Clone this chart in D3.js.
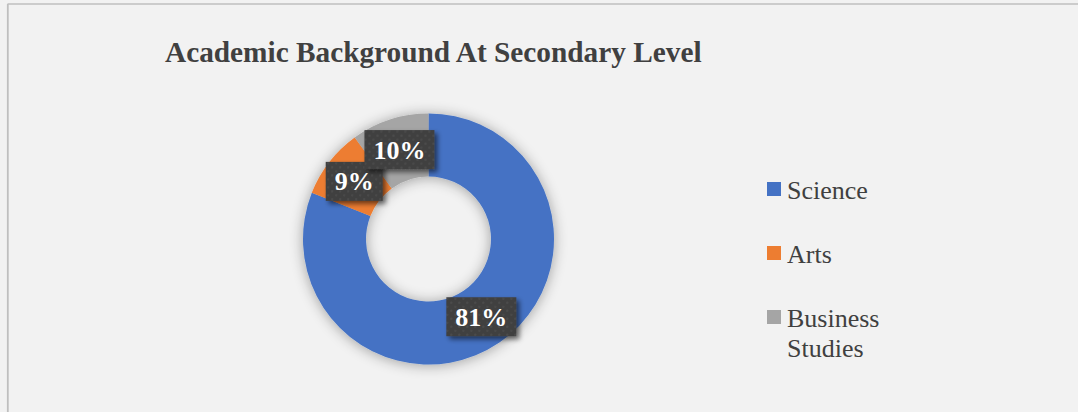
<!DOCTYPE html>
<html>
<head>
<meta charset="utf-8">
<script src="https://cdn.jsdelivr.net/npm/d3@7/dist/d3.min.js"></script>
<style>
  html, body { margin: 0; padding: 0; background: #f2f2f2; }
  svg { display: block; }
</style>
</head>
<body>
<svg id="chart" width="1078" height="412"></svg>
<script>
// Chart data
const chartTitle = "Academic Background At Secondary Level";
const categories = ["Science", "Arts", "Business Studies"];
const percentValues = [81, 9, 10];
const legendLines = [["Science"], ["Arts"], ["Business", "Studies"]];
const sliceColors = ["#4472c4", "#ed7d31", "#a5a5a5"];

const W = 1078, H = 412;
const svg = d3.select("#chart");
const defs = svg.append("defs");

// Soft halo around the ring
const halo = defs.append("filter").attr("id", "ringShadow")
  .attr("x", "-20%").attr("y", "-20%").attr("width", "140%").attr("height", "140%");
halo.append("feGaussianBlur").attr("in", "SourceAlpha").attr("stdDeviation", 7).attr("result", "b");
halo.append("feOffset").attr("in", "b").attr("dx", 0).attr("dy", 1).attr("result", "o");
halo.append("feComponentTransfer").attr("in", "o").attr("result", "s")
  .append("feFuncA").attr("type", "linear").attr("slope", 0.35);
const hm = halo.append("feMerge");
hm.append("feMergeNode").attr("in", "s");
hm.append("feMergeNode").attr("in", "SourceGraphic");

// Drop shadow behind the value boxes
const boxShadow = defs.append("filter").attr("id", "boxShadow")
  .attr("x", "-30%").attr("y", "-30%").attr("width", "170%").attr("height", "170%");
boxShadow.append("feGaussianBlur").attr("in", "SourceAlpha").attr("stdDeviation", 2.5).attr("result", "b");
boxShadow.append("feOffset").attr("in", "b").attr("dx", 3).attr("dy", 3).attr("result", "o");
boxShadow.append("feComponentTransfer").attr("in", "o").attr("result", "s")
  .append("feFuncA").attr("type", "linear").attr("slope", 0.55);
const bm = boxShadow.append("feMerge");
bm.append("feMergeNode").attr("in", "s");
bm.append("feMergeNode").attr("in", "SourceGraphic");

// Dotted texture for the label boxes
const pat = defs.append("pattern").attr("id", "dots")
  .attr("patternUnits", "userSpaceOnUse").attr("width", 8).attr("height", 8);
pat.append("rect").attr("width", 8).attr("height", 8).attr("fill", "#3f3f3f");
pat.append("circle").attr("cx", 2).attr("cy", 2).attr("r", 1.3).attr("fill", "#4c4c4c");
pat.append("circle").attr("cx", 6).attr("cy", 6).attr("r", 1.3).attr("fill", "#4a4a4a");

// Background and frame
svg.append("rect").attr("width", W).attr("height", H).attr("fill", "#f2f2f2");
svg.append("line").attr("x1", 7.5).attr("x2", W).attr("y1", 4).attr("y2", 4)
  .attr("stroke", "#bfbfbf").attr("stroke-width", 1.5);
svg.append("line").attr("x1", 7.8).attr("x2", 7.8).attr("y1", 4).attr("y2", H)
  .attr("stroke", "#bfbfbf").attr("stroke-width", 1.8);

// Title
svg.append("text")
  .attr("x", 165).attr("y", 62)
  .attr("font-family", "'Liberation Serif', 'Times New Roman', serif")
  .attr("font-weight", "bold").attr("font-size", 29.3)
  .attr("fill", "#404040")
  .text(chartTitle);

// Donut
const cx = 428.5, cy = 239, outerR = 125.5, innerR = 62.5;
const data = categories.map((c, i) => ({ category: c, value: percentValues[i], color: sliceColors[i] }));
const pie = d3.pie().value(d => d.value).sort(null);
const arcs = pie(data);
const arc = d3.arc().innerRadius(innerR).outerRadius(outerR);

const g = svg.append("g").attr("transform", `translate(${cx},${cy})`);
g.append("g").attr("filter", "url(#ringShadow)")
  .selectAll("path").data(arcs).join("path")
  .attr("d", arc)
  .attr("fill", d => d.data.color);

// Value labels on dark boxes at each slice centroid
const fmt = d => d3.format(".0f")(d) + "%";
const labels = g.selectAll("g.lbl").data(arcs).join("g")
  .attr("class", "lbl")
  .attr("transform", d => `translate(${arc.centroid(d)})`);

labels.each(function (d) {
  const sel = d3.select(this);
  const t = sel.append("text")
    .attr("text-anchor", "middle")
    .attr("dy", "0.35em")
    .attr("font-family", "'Liberation Serif', 'Times New Roman', serif")
    .attr("font-weight", "bold").attr("font-size", 26)
    .attr("fill", "#ffffff")
    .text(fmt(d.data.value));
  const tw = t.node().getComputedTextLength();
  const bw = tw + 18, bh = 39;
  sel.insert("rect", "text")
    .attr("x", -bw / 2).attr("y", -bh / 2)
    .attr("width", bw).attr("height", bh)
    .attr("fill", "url(#dots)")
    .attr("filter", "url(#boxShadow)");
});

// Legend
const legendX = 767, legendTops = [182, 246, 310], lineGap = 30;
const lg = svg.append("g");
data.forEach((d, i) => {
  lg.append("rect")
    .attr("x", legendX).attr("y", legendTops[i])
    .attr("width", 14).attr("height", 14)
    .attr("fill", d.color);
  const tx = lg.append("text")
    .attr("x", legendX + 20).attr("y", legendTops[i] + 17)
    .attr("font-family", "'Liberation Serif', 'Times New Roman', serif")
    .attr("font-size", 26).attr("fill", "#404040");
  legendLines[i].forEach((line, j) => {
    tx.append("tspan").attr("x", legendX + 20).attr("dy", j === 0 ? 0 : lineGap).text(line);
  });
});
</script>
</body>
</html>
